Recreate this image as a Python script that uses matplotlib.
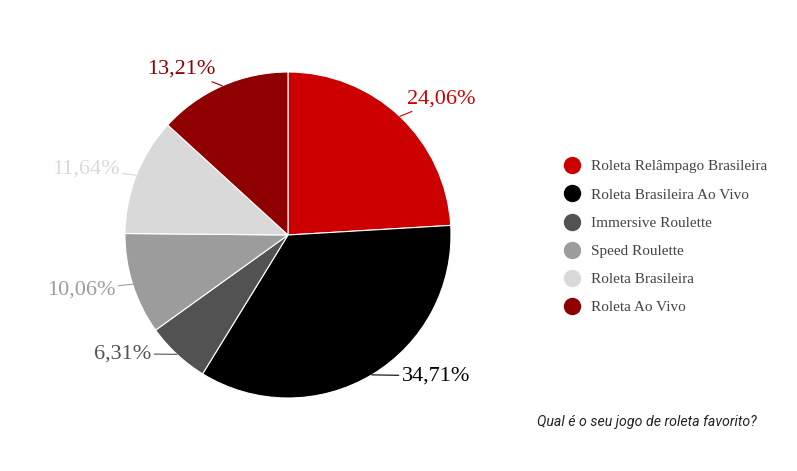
import numpy as np
import matplotlib.pyplot as plt
from matplotlib.lines import Line2D

''' data '''
categories = ['Roleta Relâmpago Brasileira', 'Roleta Brasileira Ao Vivo', 'Immersive Roulette',
              'Speed Roulette', 'Roleta Brasileira', 'Roleta Ao Vivo']
shares = [24.06, 34.71, 6.31, 10.06, 11.64, 13.21]
pct_labels = ['24,06%', '34,71%', '6,31%', '10,06%', '11,64%', '13,21%']
colors = ['#cc0000', '#000000', '#525252', '#9c9c9c', '#d9d9d9', '#8f0000']
caption = 'Qual é o seu jogo de roleta favorito?'

# small angular nudges (deg) so the labels sit like the original
label_nudge = [2, 8, -6, 0, 0, 0]

fig = plt.figure(figsize=(7.97, 4.71), dpi=100)
ax = fig.add_axes([125 / 797, 73 / 471, 326 / 797, 326 / 471])

wedges, _ = ax.pie(shares, colors=colors, startangle=90, counterclock=False, radius=1,
                   wedgeprops=dict(edgecolor='white', linewidth=0.8))
ax.set_xlim(-1, 1)
ax.set_ylim(-1, 1)
ax.set_aspect('equal')
ax.axis('off')

# outside labels with leader lines
for w, lab, col, nd in zip(wedges, pct_labels, colors, label_nudge):
    mid = (w.theta1 + w.theta2) / 2
    ang = np.deg2rad(mid)
    x, y = np.cos(ang), np.sin(ang)
    tang = np.deg2rad(mid + nd)
    tx, ty = 1.11 * np.cos(tang), 1.11 * np.sin(tang)
    ha = 'left' if x > 0 else 'right'
    ax.annotate(lab, xy=(x, y), xytext=(tx, ty), ha=ha, va='center',
                fontsize=16, family='Liberation Serif', color=col, annotation_clip=False,
                arrowprops=dict(arrowstyle='-', color=col, lw=0.8, shrinkA=0, shrinkB=0))

handles = [Line2D([0], [0], marker='o', linestyle='none', markersize=11.5,
                  markerfacecolor=c, markeredgecolor=c) for c in colors]
fig.legend(handles, categories, loc='upper left', bbox_to_anchor=(549 / 797, 1 - 146 / 471),
           frameon=False, handletextpad=0.65, labelspacing=0.95, handlelength=1.2,
           prop=dict(family='Liberation Serif', size=11), labelcolor='#444444')

fig.text(757 / 797, 1 - 422 / 471, caption, ha='right', va='center', fontsize=10.2,
         family='Roboto', style='italic', color='#222222')

fig.savefig('out.png', dpi=100)
